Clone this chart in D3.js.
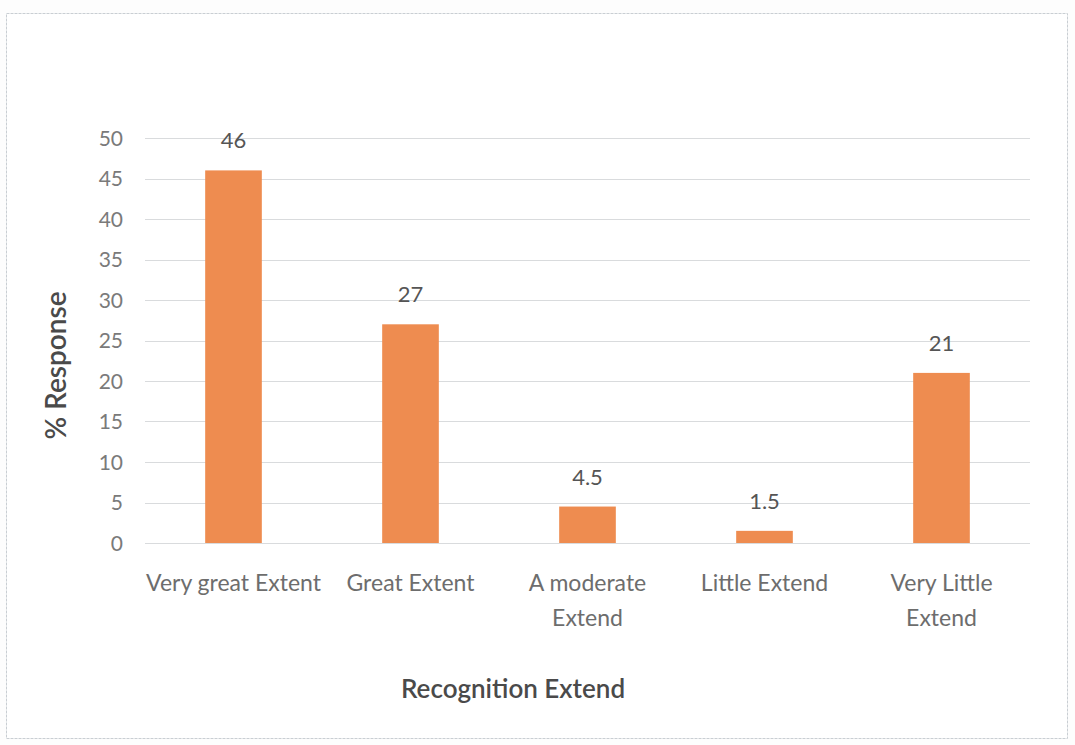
<!DOCTYPE html>
<html>
<head>
<meta charset="utf-8">
<script src="https://cdn.jsdelivr.net/npm/d3@7"></script>
<style>
  html, body { margin: 0; padding: 0; background: #fdfdfd; }
  svg { display: block; }
  text { font-family: Lato, "Open Sans", sans-serif; }
</style>
</head>
<body>
<svg id="chart" width="1075" height="745"></svg>
<script>
// Share of responses by recognition extent (%)
const categories = ["Very great Extent", "Great Extent", "A moderate\nExtend", "Little Extend", "Very Little\nExtend"];
const responses = [46, 27, 4.5, 1.5, 21];
const yTicks = [0, 5, 10, 15, 20, 25, 30, 35, 40, 45, 50];

const svg = d3.select("#chart");
const W = 1075, H = 745;

// chart frame
svg.append("rect").attr("x", 0).attr("y", 0).attr("width", W).attr("height", H).attr("fill", "#fdfdfd");
svg.append("rect")
  .attr("x", 6.5).attr("y", 13.5).attr("width", 1061).attr("height", 725)
  .attr("fill", "#ffffff").attr("stroke", "#c9ced3").attr("stroke-width", 1)
  .attr("stroke-dasharray", "3,1");

const plot = { left: 145, right: 1030, top: 138, bottom: 543 };

const x = d3.scaleBand().domain(categories).range([plot.left, plot.right]).paddingInner(0.68).paddingOuter(0.34);
const y = d3.scaleLinear().domain([0, 50]).range([plot.bottom, plot.top]);

// gridlines
svg.append("g").selectAll("line").data(yTicks).join("line")
  .attr("x1", plot.left).attr("x2", plot.right)
  .attr("y1", d => Math.round(y(d)) + 0.5).attr("y2", d => Math.round(y(d)) + 0.5)
  .attr("stroke", "#d9dbdd").attr("stroke-width", 1);

// y axis labels
const yAxis = d3.axisLeft(y).tickValues(yTicks).tickSize(0).tickPadding(0);
const gy = svg.append("g").attr("transform", `translate(${plot.left - 22},0)`).call(yAxis);
gy.select(".domain").remove();
gy.selectAll("text").attr("font-size", 21).attr("fill", "#7a7a7a").attr("dy", "0.35em");

// bars
svg.append("g").selectAll("rect").data(responses).join("rect")
  .attr("x", (d, i) => x(categories[i]))
  .attr("width", x.bandwidth())
  .attr("y", d => y(d))
  .attr("height", d => y(0) - y(d))
  .attr("fill", "#ee8c50");

// value labels
svg.append("g").selectAll("text").data(responses).join("text")
  .attr("x", (d, i) => x(categories[i]) + x.bandwidth() / 2)
  .attr("y", d => y(d) - 22)
  .attr("text-anchor", "middle")
  .attr("font-size", 22).attr("fill", "#555555")
  .text(d => d);

// category labels
const xAxis = d3.axisBottom(x).tickSize(0).tickFormat("");
const gx = svg.append("g").attr("transform", `translate(0,${plot.bottom})`).call(xAxis);
gx.select(".domain").remove();
gx.selectAll(".tick").append("text")
  .attr("text-anchor", "middle").attr("font-size", 23).attr("fill", "#6d6d6d")
  .each(function(d) {
    const lines = d.split("\n");
    d3.select(this).selectAll("tspan").data(lines).join("tspan")
      .attr("x", 0).attr("y", (l, i) => 48 + i * 35).text(l => l);
  });

// axis titles
svg.append("text")
  .attr("transform", `translate(66,${(plot.top + plot.bottom) / 2 + 25}) rotate(-90)`)
  .attr("text-anchor", "middle").attr("font-size", 28).attr("font-weight", 600)
  .attr("font-family", "'Open Sans', sans-serif")
  .attr("fill", "#4a4a4a").text("% Response");

svg.append("text")
  .attr("x", 513).attr("y", 698)
  .attr("text-anchor", "middle").attr("font-size", 26).attr("font-weight", 600)
  .attr("fill", "#4a4a4a").text("Recognition Extend");
</script>
</body>
</html>
